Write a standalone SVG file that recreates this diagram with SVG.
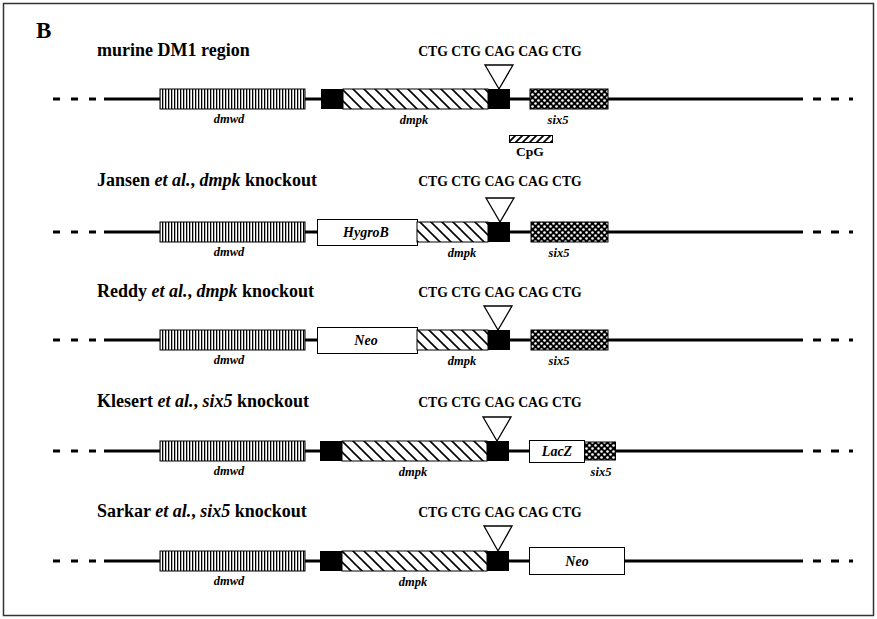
<svg xmlns="http://www.w3.org/2000/svg" width="877" height="619" viewBox="0 0 877 619">
<style>
.t{font-family:"Liberation Serif","Times New Roman",serif;font-weight:bold;fill:#000}
.title{font-size:18px}
.ctg{font-size:13.7px}
.gl{font-size:12.5px;font-style:italic;text-anchor:middle}
.bl{font-size:14px;font-style:italic;text-anchor:middle}
.bb{stroke:#000;stroke-width:1}
.blk{fill:#000}
.wht{fill:#fff;stroke:#000;stroke-width:1}
.ln{stroke:#000;stroke-width:3;fill:none}
.tri{fill:#fff;stroke:#000;stroke-width:1.3}
</style>
<defs>
<pattern id="vs" patternUnits="userSpaceOnUse" width="3" height="4">
<rect width="3" height="4" fill="#fff"/>
<rect x="0" width="1.3" height="4" fill="#000"/>
</pattern>
<pattern id="dg" patternUnits="userSpaceOnUse" width="11" height="11">
<rect width="11" height="11" fill="#fff"/>
<path d="M-1,-1 L12,12 M-1,10 L1,12 M10,-1 L12,1" stroke="#000" stroke-width="1.6"/>
</pattern>
<pattern id="cp" patternUnits="userSpaceOnUse" width="7" height="7">
<rect width="7" height="7" fill="#fff"/>
<path d="M-1,8 L8,-1 M-1,1 L1,-1 M6,8 L8,6" stroke="#000" stroke-width="1.8"/>
</pattern>
<pattern id="xh" patternUnits="userSpaceOnUse" width="6" height="6">
<rect width="6" height="6" fill="#000"/>
<circle cx="1.5" cy="1.5" r="1.3" fill="#fff"/>
<circle cx="4.5" cy="4.5" r="1.3" fill="#fff"/>
</pattern>
</defs>
<rect x="3.5" y="3.5" width="870" height="612" fill="#fff" stroke="#333" stroke-width="1.5"/>
<text class="t" x="36" y="38" font-size="23">B</text>

<g id="connectors">
<g id="conn-r1">
<path class="ln" d="M53,99 H60 M71,99 H78 M89,99 H96 M104,99 H803 M813,99 H821 M831,99 H839 M849,99 H853"/>
</g>
<g id="conn-r2">
<path class="ln" d="M53,232 H60 M71,232 H78 M89,232 H96 M104,232 H803 M813,232 H821 M831,232 H839 M849,232 H853"/>
</g>
<g id="conn-r3">
<path class="ln" d="M53,340 H60 M71,340 H78 M89,340 H96 M104,340 H803 M813,340 H821 M831,340 H839 M849,340 H853"/>
</g>
<g id="conn-r4">
<path class="ln" d="M53,451 H60 M71,451 H78 M89,451 H96 M104,451 H803 M813,451 H821 M831,451 H839 M849,451 H853"/>
</g>
<g id="conn-r5">
<path class="ln" d="M53,561 H60 M71,561 H78 M89,561 H96 M104,561 H803 M813,561 H821 M831,561 H839 M849,561 H853"/>
</g>
</g>

<!-- Row 1 -->
<g id="row1">
<text class="t title" x="97" y="56">murine DM1 region</text>
<text class="t ctg" x="500" y="56" text-anchor="middle">CTG CTG CAG CAG CTG</text>
<g id="r1-dmwd"><rect class="bb" x="160" y="89" width="145" height="20" fill="url(#vs)"/><text class="t gl" x="229" y="123">dmwd</text></g>
<g id="r1-dmpk"><rect class="blk" x="321" y="89" width="22" height="20"/><rect class="bb" x="343" y="89" width="145" height="20" fill="url(#dg)"/><rect class="blk" x="488" y="89" width="22" height="20"/><text class="t gl" x="414" y="124">dmpk</text></g>
<g id="r1-repeat"><path class="tri" d="M485,65 L513,65 L499,89 Z"/></g>
<g id="r1-six5"><rect class="bb" x="530" y="89" width="78" height="20" fill="url(#xh)"/><text class="t gl" x="558" y="124">six5</text></g>
<g id="r1-cpg"><rect class="bb" x="509.5" y="135.5" width="43" height="7" fill="url(#cp)"/><text class="t" x="530" y="156" font-size="13.5" text-anchor="middle">CpG</text></g>
</g>

<!-- Row 2 -->
<g id="row2">
<text class="t title" x="97" y="186">Jansen <tspan font-style="italic">et al.</tspan>, <tspan font-style="italic">dmpk</tspan> knockout</text>
<text class="t ctg" x="500" y="186" text-anchor="middle">CTG CTG CAG CAG CTG</text>
<g id="r2-dmwd"><rect class="bb" x="160" y="222" width="145" height="20" fill="url(#vs)"/><text class="t gl" x="229" y="256">dmwd</text></g>
<g id="r2-hygrob"><rect class="wht" x="317.5" y="219.5" width="100" height="26"/><text class="t bl" x="366" y="237">HygroB</text></g>
<g id="r2-dmpk"><rect class="bb" x="417" y="222" width="71" height="20" fill="url(#dg)"/><rect class="blk" x="488" y="222" width="22" height="20"/><text class="t gl" x="462" y="257">dmpk</text></g>
<g id="r2-repeat"><path class="tri" d="M486,198 L514,198 L500,222 Z"/></g>
<g id="r2-six5"><rect class="bb" x="531" y="222" width="77" height="20" fill="url(#xh)"/><text class="t gl" x="559" y="257">six5</text></g>
</g>

<!-- Row 3 -->
<g id="row3">
<text class="t title" x="97" y="297">Reddy <tspan font-style="italic">et al.</tspan>, <tspan font-style="italic">dmpk</tspan> knockout</text>
<text class="t ctg" x="500" y="297" text-anchor="middle">CTG CTG CAG CAG CTG</text>
<g id="r3-dmwd"><rect class="bb" x="160" y="330" width="145" height="20" fill="url(#vs)"/><text class="t gl" x="229" y="364">dmwd</text></g>
<g id="r3-neo"><rect class="wht" x="317.5" y="327.5" width="100" height="26"/><text class="t bl" x="366" y="345">Neo</text></g>
<g id="r3-dmpk"><rect class="bb" x="417" y="330" width="71" height="20" fill="url(#dg)"/><rect class="blk" x="488" y="330" width="22" height="20"/><text class="t gl" x="462" y="365">dmpk</text></g>
<g id="r3-repeat"><path class="tri" d="M484,306 L512,306 L498,330 Z"/></g>
<g id="r3-six5"><rect class="bb" x="531" y="330" width="77" height="20" fill="url(#xh)"/><text class="t gl" x="559" y="365">six5</text></g>
</g>

<!-- Row 4 -->
<g id="row4">
<text class="t title" x="97" y="407">Klesert <tspan font-style="italic">et al.</tspan>, <tspan font-style="italic">six5</tspan> knockout</text>
<text class="t ctg" x="500" y="407" text-anchor="middle">CTG CTG CAG CAG CTG</text>
<g id="r4-dmwd"><rect class="bb" x="160" y="441" width="145" height="20" fill="url(#vs)"/><text class="t gl" x="229" y="475">dmwd</text></g>
<g id="r4-dmpk"><rect class="blk" x="320" y="441" width="22" height="20"/><rect class="bb" x="342" y="441" width="145" height="20" fill="url(#dg)"/><rect class="blk" x="487" y="441" width="22" height="20"/><text class="t gl" x="413" y="476">dmpk</text></g>
<g id="r4-repeat"><path class="tri" d="M483,417 L511,417 L497,441 Z"/></g>
<g id="r4-lacz"><rect class="wht" x="529.5" y="440.5" width="55" height="22"/><text class="t bl" x="557" y="456">LacZ</text></g>
<g id="r4-six5"><rect class="bb" x="584.5" y="442" width="31" height="18" fill="url(#xh)"/><text class="t gl" x="601" y="476">six5</text></g>
</g>

<!-- Row 5 -->
<g id="row5">
<text class="t title" x="97" y="517">Sarkar <tspan font-style="italic">et al.</tspan>, <tspan font-style="italic">six5</tspan> knockout</text>
<text class="t ctg" x="500" y="517" text-anchor="middle">CTG CTG CAG CAG CTG</text>
<g id="r5-dmwd"><rect class="bb" x="160" y="551" width="145" height="20" fill="url(#vs)"/><text class="t gl" x="229" y="585">dmwd</text></g>
<g id="r5-dmpk"><rect class="blk" x="320" y="551" width="22" height="20"/><rect class="bb" x="342" y="551" width="145" height="20" fill="url(#dg)"/><rect class="blk" x="487" y="551" width="22" height="20"/><text class="t gl" x="413" y="586">dmpk</text></g>
<g id="r5-repeat"><path class="tri" d="M484,526 L512,526 L498,551 Z"/></g>
<g id="r5-neo"><rect class="wht" x="529.5" y="547.5" width="95" height="27"/><text class="t bl" x="577" y="566">Neo</text></g>
</g>
</svg>
